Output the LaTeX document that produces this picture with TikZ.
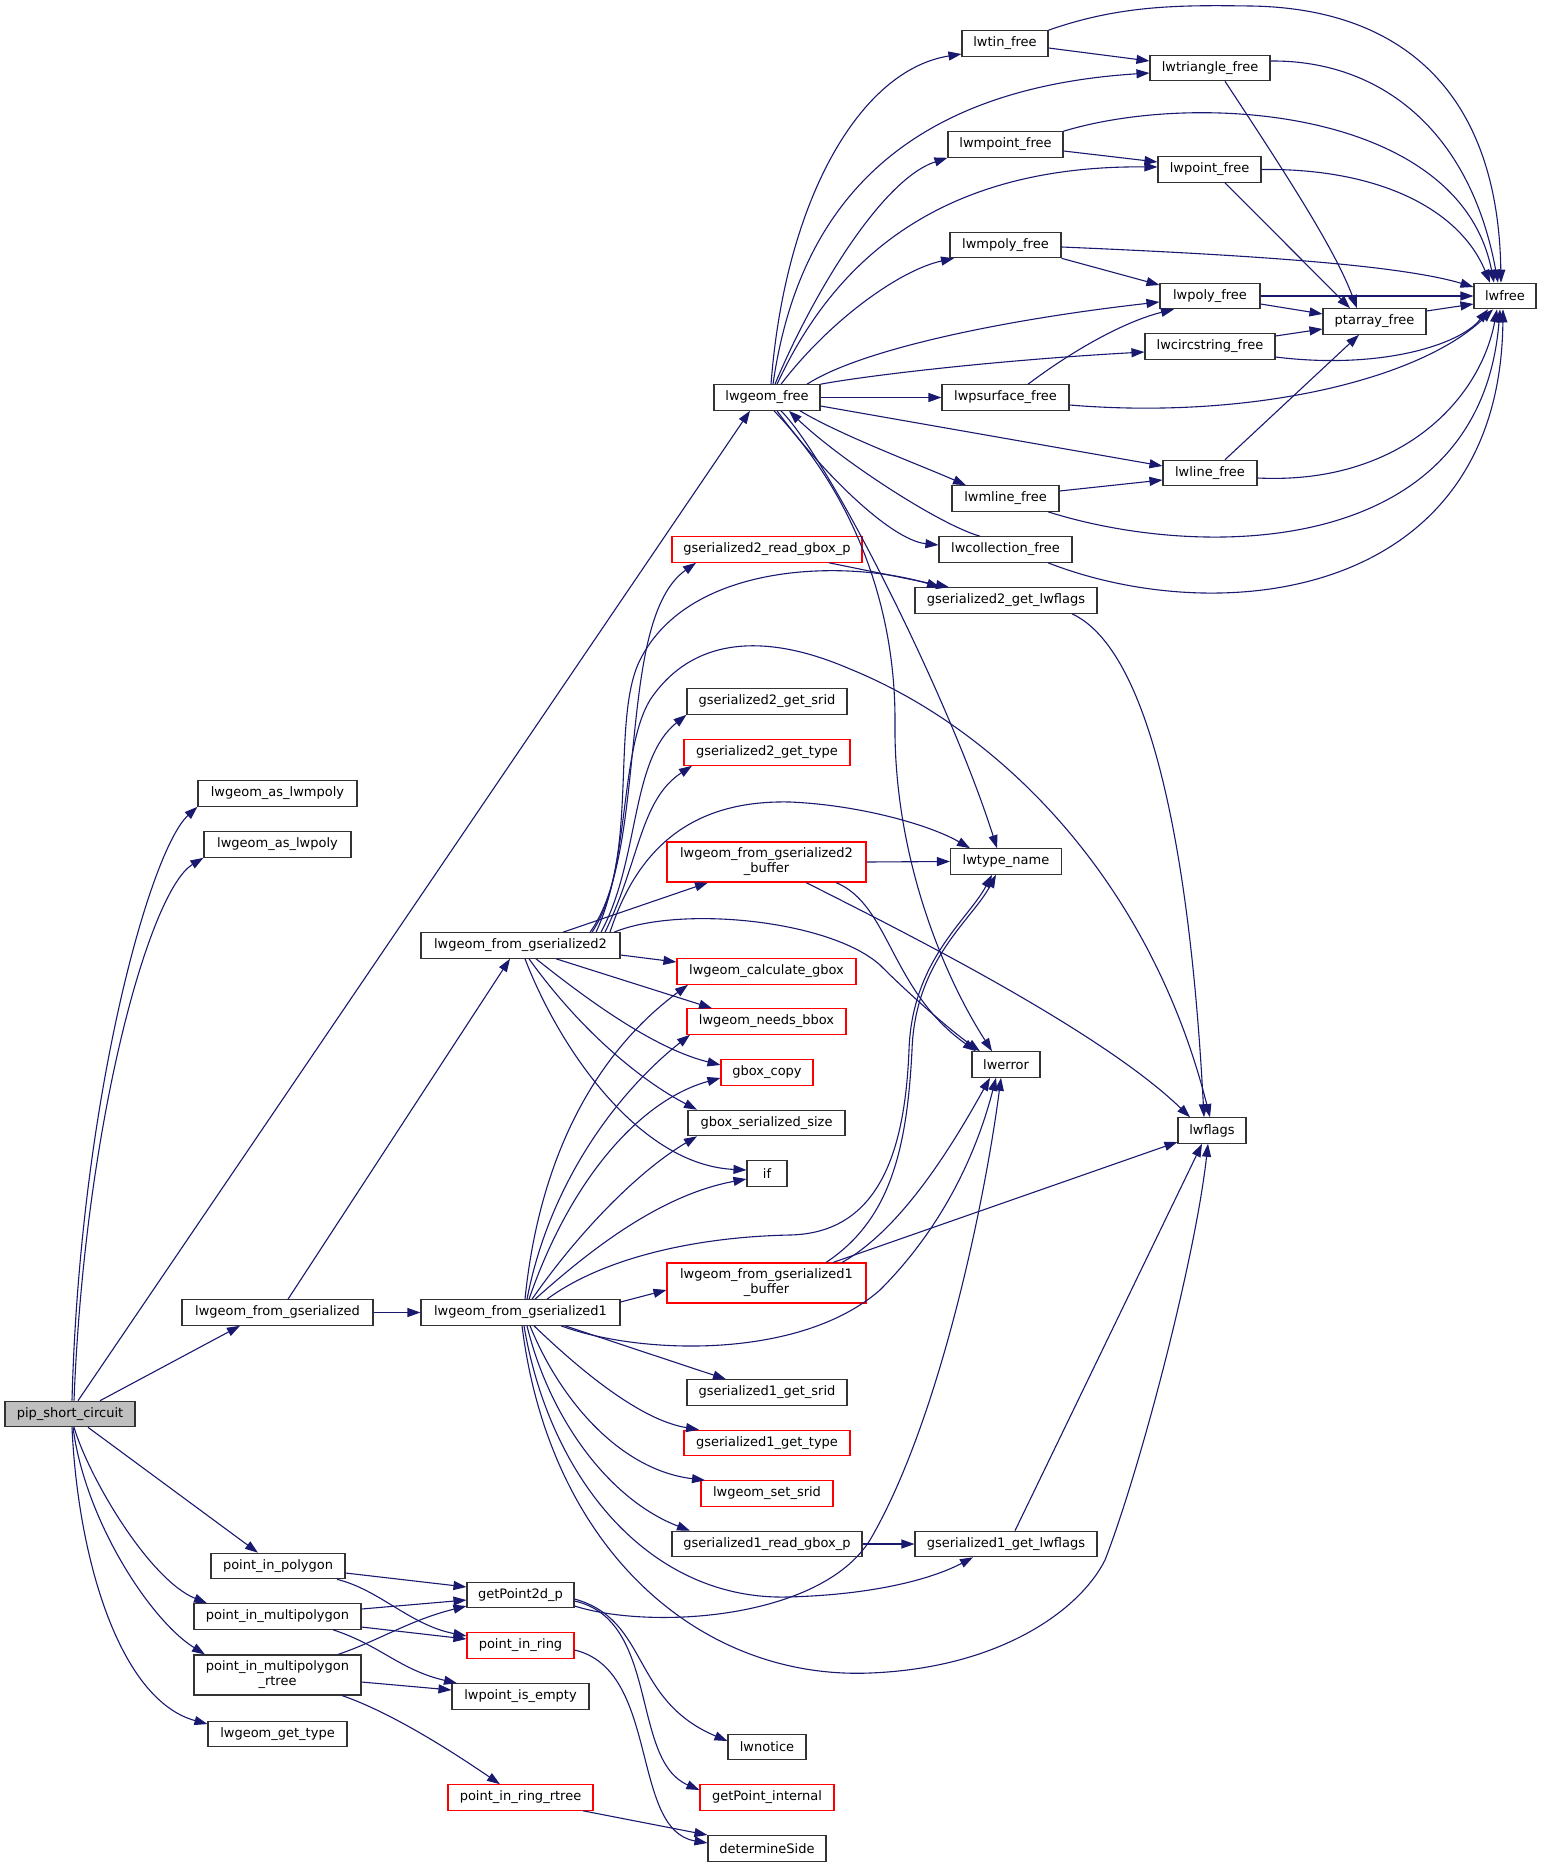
\documentclass[tikz,border=0pt]{standalone}
\usepackage{fontspec}
\setmainfont{DejaVu Sans}
\usetikzlibrary{arrows.meta}
\definecolor{edgec}{HTML}{191970}
\definecolor{boxgray}{HTML}{BFBFBF}
\tikzset{
  box/.style={draw=black!80, line width=1.1pt, fill=white, inner sep=0pt, minimum height=25.5pt, align=center, font=\fontsize{13}{15}\selectfont},
  rbox/.style={box, draw=red},
  e/.style={draw=edgec, line width=1.1pt, -{Triangle[length=13pt,width=9pt]}},
}
\begin{document}
\begin{tikzpicture}[x=1pt,y=-1pt]
\useasboundingbox[fill=white] (0,0) rectangle (1543,1867);
% ---- nodes ----
\node[box, minimum width=130pt, fill=boxgray] (pip) at (70,1414) {pip\_short\_circuit};
\node[box, minimum width=159pt] (amp) at (277.5,793.5) {lwgeom\_as\_lwmpoly};
\node[box, minimum width=147pt] (ap) at (277.5,844.5) {lwgeom\_as\_lwpoly};
\node[box, minimum width=191pt] (fg) at (277.5,1312.5) {lwgeom\_from\_gserialized};
\node[box, minimum width=134pt] (pp) at (278,1566) {point\_in\_polygon};
\node[box, minimum width=167pt] (pmp) at (277.5,1616.5) {point\_in\_multipolygon};
\node[box, minimum width=167pt, minimum height=40pt] (pmr) at (277.5,1675) {point\_in\_multipolygon\\\_rtree};
\node[box, minimum width=139pt] (gt) at (277.5,1734) {lwgeom\_get\_type};
\node[box, minimum width=106pt] (gf) at (767,397.5) {lwgeom\_free};
\node[box, minimum width=199pt] (fg2) at (520.5,945.5) {lwgeom\_from\_gserialized2};
\node[box, minimum width=199pt] (fg1) at (520.5,1312.5) {lwgeom\_from\_gserialized1};
\node[box, minimum width=107pt] (gp) at (520.5,1595) {getPoint2d\_p};
\node[rbox, minimum width=107pt] (pr) at (520.5,1645.5) {point\_in\_ring};
\node[box, minimum width=137pt] (pie) at (520.5,1696.5) {lwpoint\_is\_empty};
\node[rbox, minimum width=145pt] (prr) at (520.5,1797.5) {point\_in\_ring\_rtree};
\node[box, minimum width=86pt] (tin) at (1005,43.5) {lwtin\_free};
\node[box, minimum width=115pt] (mpt) at (1005.5,144.5) {lwmpoint\_free};
\node[box, minimum width=111pt] (mpl) at (1005.5,245) {lwmpoly\_free};
\node[box, minimum width=127pt] (psf) at (1005.5,397.5) {lwpsurface\_free};
\node[box, minimum width=107pt] (mln) at (1005.5,498.5) {lwmline\_free};
\node[box, minimum width=133pt] (col) at (1005.5,549.5) {lwcollection\_free};
\node[rbox, minimum width=190pt] (g2r) at (767,549.5) {gserialized2\_read\_gbox\_p};
\node[box, minimum width=182pt] (g2l) at (1006,600.5) {gserialized2\_get\_lwflags};
\node[box, minimum width=160pt] (g2s) at (767,701.5) {gserialized2\_get\_srid};
\node[rbox, minimum width=166pt] (g2t) at (767,752.5) {gserialized2\_get\_type};
\node[rbox, minimum width=199pt, minimum height=40pt] (fg2b) at (766.5,862) {lwgeom\_from\_gserialized2\\\_buffer};
\node[box, minimum width=111pt] (tn) at (1006,861.5) {lwtype\_name};
\node[rbox, minimum width=179pt] (cg) at (766.5,971.5) {lwgeom\_calculate\_gbox};
\node[rbox, minimum width=159pt] (nb) at (766.5,1021.5) {lwgeom\_needs\_bbox};
\node[rbox, minimum width=92pt] (gc) at (767,1072.5) {gbox\_copy};
\node[box, minimum width=68pt] (er) at (1006,1064.5) {lwerror};
\node[box, minimum width=157pt] (gss) at (766.5,1123) {gbox\_serialized\_size};
\node[box, minimum width=68pt] (lf) at (1212,1130.5) {lwflags};
\node[box, minimum width=40pt] (iff) at (767,1173.5) {if};
\node[rbox, minimum width=199pt, minimum height=40pt] (fg1b) at (766.5,1283) {lwgeom\_from\_gserialized1\\\_buffer};
\node[box, minimum width=160pt] (g1s) at (767,1392.5) {gserialized1\_get\_srid};
\node[rbox, minimum width=166pt] (g1t) at (767,1443) {gserialized1\_get\_type};
\node[rbox, minimum width=132pt] (ss) at (767,1493.5) {lwgeom\_set\_srid};
\node[box, minimum width=190pt] (g1r) at (767,1544) {gserialized1\_read\_gbox\_p};
\node[box, minimum width=182pt] (g1l) at (1006,1544) {gserialized1\_get\_lwflags};
\node[box, minimum width=78pt] (ln) at (767,1747) {lwnotice};
\node[rbox, minimum width=134pt] (gpi) at (767,1797.5) {getPoint\_internal};
\node[box, minimum width=118pt] (ds) at (767,1848.5) {determineSide};
\node[box, minimum width=120pt] (tri) at (1210,68) {lwtriangle\_free};
\node[box, minimum width=103pt] (pt) at (1209.5,169.5) {lwpoint\_free};
\node[box, minimum width=100pt] (ply) at (1210,296) {lwpoly\_free};
\node[box, minimum width=130pt] (cs) at (1210,346.5) {lwcircstring\_free};
\node[box, minimum width=94pt] (lin) at (1210,473) {lwline\_free};
\node[box, minimum width=103pt] (pa) at (1374.5,321.5) {ptarray\_free};
\node[box, minimum width=62pt] (fr) at (1505,296) {lwfree};
% ---- edges: pip ----
\draw[e] (pip.north -| 72,0) .. controls (80,1100) and (150,850) .. (amp.south west);
\draw[e] (pip.north -| 74,0) .. controls (85,1120) and (150,890) .. (ap.south west);
\draw[e] (pip.north -| 78,0) -- (gf.south -| 750,0);
\draw[e] (pip.north -| 100,0) -- (fg.south -| 240,0);
\draw[e] (pip.south -| 88,0) -- (pp.north -| 258,0);
\draw[e] (pip.south -| 74,0) .. controls (90,1480) and (150,1580) .. (pmp.north -| 207,0);
\draw[e] (pip.south -| 73,0) .. controls (85,1520) and (150,1620) .. (pmr.north -| 205,0);
\draw[e] (pip.south -| 72,0) .. controls (78,1560) and (120,1700) .. (gt.west |- 0,1724);
% ---- lwgeom_free fan ----
\draw[e] (gf.north -| 771,0) .. controls (785,200) and (860,70) .. (tin.west |- 0,54);
\draw[e] (gf.north -| 773,0) .. controls (795,230) and (880,90) .. (tri.west |- 0,73);
\draw[e] (gf.north -| 775,0) .. controls (810,300) and (880,180) .. (mpt.south west);
\draw[e] (gf.north -| 777,0) .. controls (830,270) and (930,165) .. (pt.west |- 0,167);
\draw[e] (gf.north -| 781,0) .. controls (830,320) and (900,270) .. (mpl.south -| 954,0);
\draw[e] (gf.north -| 807,0) .. controls (860,350) and (1000,320) .. (ply.west |- 0,302);
\draw[e] (gf.north east) .. controls (870,375) and (1000,360) .. (cs.west |- 0,352);
\draw[e] (gf.east) -- (psf.west);
\draw[e] (gf.east |- 0,406) -- (lin.west |- 0,466);
\draw[e] (gf.south -| 800,0) .. controls (840,435) and (920,465) .. (mln.north -| 966,0);
\draw[e] (gf.south -| 777,0) .. controls (820,470) and (890,540) .. (col.west |- 0,545);
\draw[e] (col.north -| 980,0) .. controls (940,525) and (840,460) .. (gf.south -| 789,0);
\draw[e] (gf.south -| 781,0) .. controls (830,460) and (950,700) .. (tn.north -| 997,0);
\draw[e] (gf.south -| 774,0) .. controls (850,490) and (895,600) .. (895,720) .. controls (893,850) and (940,970) .. (er.north -| 992,0);
% ---- right cluster ----
\draw[e] (tin.east |- 0,48) -- (tri.west |- 0,61);
\draw[e] (tin.north east) .. controls (1120,5) and (1180,5) .. (1250,6) .. controls (1400,8) and (1498,90) .. (fr.north -| 1501,0);
\draw[e] (tri.east |- 0,61) .. controls (1380,60) and (1470,130) .. (fr.north -| 1498,0);
\draw[e] (tri.south -| 1225,0) .. controls (1290,180) and (1335,250) .. (pa.north -| 1357,0);
\draw[e] (mpt.east |- 0,151) -- (pt.west |- 0,162);
\draw[e] (mpt.north east) .. controls (1200,90) and (1460,110) .. (fr.north -| 1494,0);
\draw[e] (pt.south -| 1225,0) -- (pa.north -| 1350,0);
\draw[e] (pt.east) .. controls (1380,168) and (1460,210) .. (fr.north -| 1490,0);
\draw[e] (mpl.south east) -- (ply.west |- 0,285);
\draw[e] (mpl.east |- 0,247) .. controls (1250,255) and (1400,265) .. (fr.west |- 0,287);
\draw[e] (ply.east) -- (fr.west);
\draw[e] (ply.east |- 0,304) -- (pa.west |- 0,314);
\draw[e] (pa.east |- 0,311) -- (fr.west |- 0,304);
\draw[e] (cs.east |- 0,336) -- (pa.west |- 0,329);
\draw[e] (cs.east |- 0,357) .. controls (1380,370) and (1460,345) .. (fr.south -| 1488,0);
\draw[e] (psf.north -| 1028,0) .. controls (1080,345) and (1130,320) .. (ply.south -| 1174,0);
\draw[e] (psf.east |- 0,405) .. controls (1250,420) and (1420,380) .. (fr.south -| 1493,0);
\draw[e] (lin.north -| 1225,0) -- (pa.south -| 1359,0);
\draw[e] (lin.east |- 0,478) .. controls (1400,485) and (1480,400) .. (fr.south -| 1497,0);
\draw[e] (mln.east |- 0,491) -- (lin.west |- 0,480);
\draw[e] (mln.south -| 1048,0) .. controls (1200,560) and (1480,560) .. (fr.south -| 1500,0);
\draw[e] (col.south -| 1048,0) .. controls (1220,630) and (1500,600) .. (fr.south -| 1503,0);
% ---- lwgeom_from_gserialized ----
\draw[e] (fg.north -| 288,0) -- (fg2.south -| 510,0);
\draw[e] (fg.east) -- (fg1.west);
% ---- lwgeom_from_gserialized2 ----
\draw[e] (fg2.north -| 590,0) .. controls (650,850) and (615,620) .. (g2r.south -| 696,0);
\draw[e] (fg2.north -| 592,0) .. controls (640,860) and (610,720) .. (640,660) .. controls (690,560) and (850,560) .. (g2l.north -| 940,0);
\draw[e] (fg2.north -| 596,0) .. controls (630,860) and (620,750) .. (650,700) .. controls (690,640) and (760,630) .. (850,669) .. controls (1000,730) and (1150,880) .. (lf.north -| 1210,0);
\draw[e] (fg2.north -| 601,0) .. controls (640,860) and (630,760) .. (g2s.south west);
\draw[e] (fg2.north -| 605,0) .. controls (640,860) and (640,800) .. (g2t.south -| 692,0);
\draw[e] (fg2.north -| 563,0) -- (fg2b.south -| 708,0);
\draw[e] (fg2.north -| 610,0) .. controls (640,840) and (700,800) .. (790,802) .. controls (860,805) and (930,825) .. (tn.north -| 970,0);
\draw[e] (fg2.north -| 614,0) .. controls (680,905) and (830,920) .. (880,965) .. controls (910,995) and (950,1030) .. (er.north -| 980,0);
\draw[e] (fg2.east |- 0,955) -- (cg.west |- 0,962);
\draw[e] (fg2.south -| 556,0) -- (nb.north -| 712,0);
\draw[e] (fg2.south -| 536,0) .. controls (600,1010) and (660,1050) .. (gc.west |- 0,1065);
\draw[e] (fg2.south -| 529,0) .. controls (580,1030) and (640,1080) .. (gss.north -| 697,0);
\draw[e] (fg2.south -| 525,0) .. controls (560,1050) and (640,1165) .. (iff.west |- 0,1170);
% ---- lwgeom_from_gserialized2_buffer ----
\draw[e] (fg2b.east) -- (tn.west);
\draw[e] (fg2b.south -| 836,0) .. controls (890,905) and (890,990) .. (er.north -| 976,0);
\draw[e] (fg2b.south -| 806,0) .. controls (900,930) and (1100,1030) .. (lf.north -| 1190,0);
% ---- lwgeom_from_gserialized1 ----
\draw[e] (fg1.north -| 525,0) .. controls (540,1150) and (600,1050) .. (cg.south -| 688,0);
\draw[e] (fg1.north -| 527,0) .. controls (550,1180) and (620,1090) .. (nb.south -| 690,0);
\draw[e] (fg1.north -| 529,0) .. controls (570,1180) and (640,1100) .. (gc.west |- 0,1078);
\draw[e] (fg1.north -| 532,0) .. controls (580,1230) and (640,1170) .. (gss.south -| 697,0);
\draw[e] (fg1.north -| 535,0) .. controls (590,1250) and (660,1195) .. (iff.west |- 0,1179);
\draw[e] (fg1.north -| 547,0) .. controls (600,1260) and (690,1237) .. (790,1235) .. controls (880,1233) and (905,1150) .. (909,1050) .. controls (912,960) and (968,920) .. (tn.south -| 992,0);
\draw[e] (fg1.east |- 0,1302) -- (fg1b.west |- 0,1290);
\draw[e] (fg1.south -| 561,0) .. controls (640,1355) and (800,1360) .. (880,1290) .. controls (950,1220) and (980,1140) .. (er.south -| 996,0);
\draw[e] (fg1.south -| 565,0) -- (g1s.north -| 726,0);
\draw[e] (fg1.south -| 534,0) .. controls (580,1370) and (640,1420) .. (g1t.north -| 699,0);
\draw[e] (fg1.south -| 530,0) .. controls (560,1400) and (620,1470) .. (ss.north -| 705,0);
\draw[e] (fg1.south -| 527,0) .. controls (550,1420) and (610,1500) .. (g1r.north -| 690,0);
\draw[e] (fg1.south -| 524,0) .. controls (550,1480) and (650,1600) .. (787,1597) .. controls (870,1595) and (930,1580) .. (g1l.south -| 973,0);
\draw[e] (fg1.south -| 522,0) .. controls (550,1550) and (700,1680) .. (870,1673) .. controls (1000,1668) and (1080,1610) .. (1105,1560) .. controls (1140,1470) and (1195,1260) .. (lf.south -| 1208,0);
% ---- lwgeom_from_gserialized1_buffer ----
\draw[e] (fg1b.north -| 826,0) .. controls (890,1220) and (907,1150) .. (912,1050) .. controls (915,960) and (972,920) .. (tn.south -| 996,0);
\draw[e] (fg1b.north -| 842,0) .. controls (900,1230) and (950,1150) .. (er.south -| 990,0);
\draw[e] (fg1b.north -| 833,0) -- (lf.west |- 0,1142);
% ---- small ones ----
\draw[e] (g2r.south -| 829,0) -- (g2l.north -| 949,0);
\draw[e] (g2l.south -| 1072,0) .. controls (1150,650) and (1190,850) .. (lf.north -| 1204,0);
\draw[e] (g1r.east) -- (g1l.west);
\draw[e] (g1l.north -| 1015,0) -- (lf.south -| 1202,0);
% ---- bottom left ----
\draw[e] (pp.east |- 0,1573) -- (gp.west |- 0,1587);
\draw[e] (pp.south -| 337,0) .. controls (380,1590) and (410,1625) .. (pr.west |- 0,1636);
\draw[e] (pmp.east |- 0,1609) -- (gp.west |- 0,1600);
\draw[e] (pmp.east |- 0,1627) -- (pr.west |- 0,1639);
\draw[e] (pmp.south -| 333,0) .. controls (380,1645) and (400,1670) .. (pie.north -| 457,0);
\draw[e] (pmr.north -| 338,0) .. controls (380,1640) and (410,1620) .. (gp.west |- 0,1606);
\draw[e] (pmr.east |- 0,1682) -- (pie.west |- 0,1690);
\draw[e] (pmr.south -| 342,0) .. controls (390,1712) and (450,1750) .. (prr.north -| 500,0);
\draw[e] (gp.east |- 0,1606) .. controls (650,1630) and (820,1620) .. (870,1540) .. controls (940,1420) and (985,1200) .. (er.south -| 1001,0);
\draw[e] (gp.east |- 0,1599) .. controls (650,1620) and (630,1700) .. (ln.west |- 0,1741);
\draw[e] (gp.east |- 0,1601) .. controls (660,1620) and (630,1760) .. (gpi.west |- 0,1790);
\draw[e] (pr.east |- 0,1650) .. controls (660,1670) and (630,1830) .. (ds.west |- 0,1843);
\draw[e] (prr.south -| 583,0) -- (ds.west |- 0,1835);
\end{tikzpicture}
\end{document}
